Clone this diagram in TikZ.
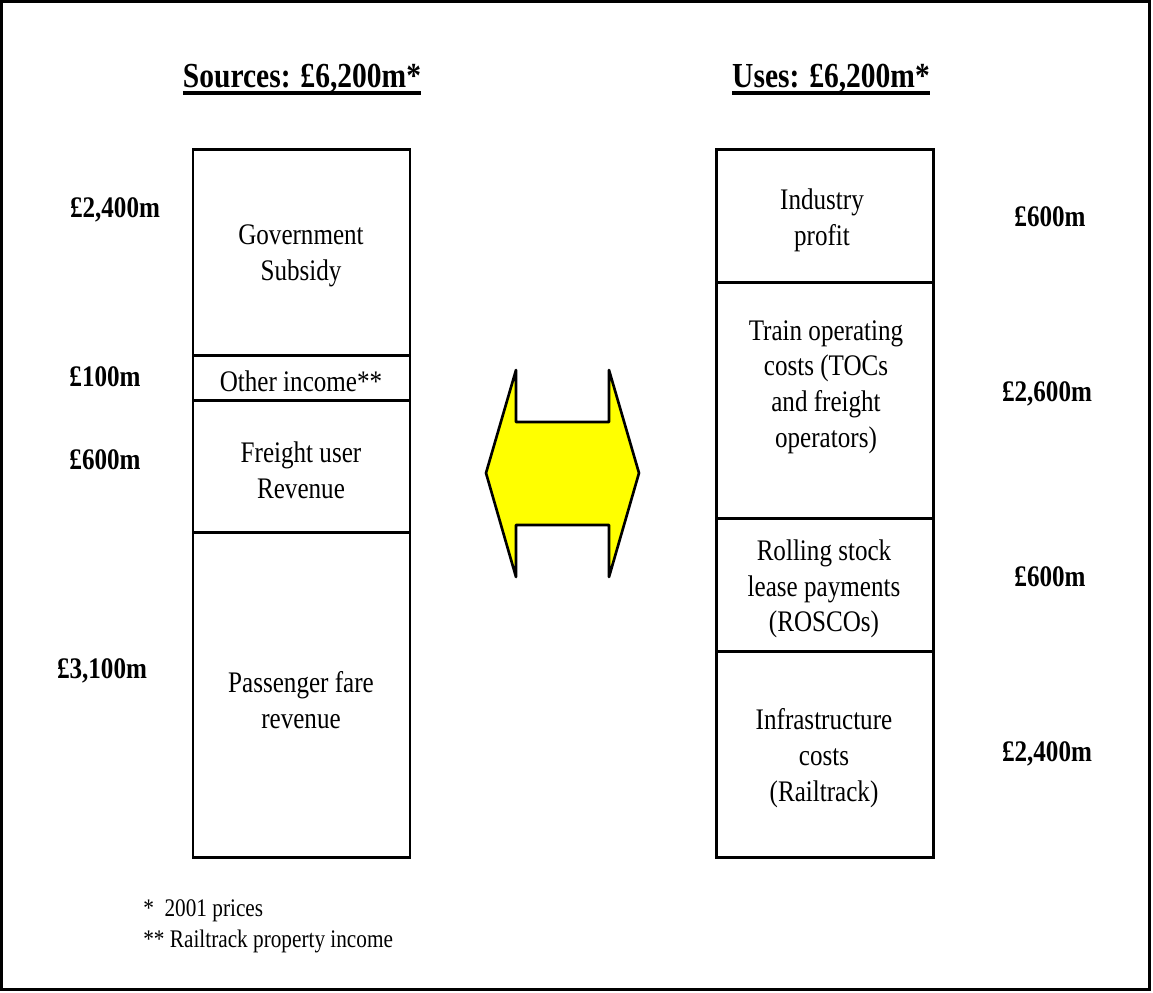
\documentclass[tikz,border=0pt]{standalone}
\usepackage{fontspec}
\setmainfont{Liberation Serif}[FakeStretch=0.84]
\usepackage{xcolor}
\definecolor{arrowyellow}{RGB}{255,255,0}
\usetikzlibrary{positioning}

\newcommand{\titleul}[1]{\setbox0=\hbox{#1}\leavevmode\rlap{\rule[-4.5pt]{\wd0}{2.2pt}}\box0}

\tikzset{
  boxtext/.style={align=center, inner sep=0pt, font=\fontsize{17}{20.3}\selectfont},
  amount/.style={inner sep=0pt, font=\fontsize{17}{20.3}\selectfont\bfseries},
  heading/.style={anchor=base, inner sep=0pt, font=\fontsize{20}{24}\selectfont\bfseries},
  footnote/.style={anchor=west, inner sep=0pt, font=\fontsize{14.4}{17}\selectfont},
  column/.style={line width=1.7pt}
}

\begin{document}
\begin{tikzpicture}[x=0.02cm, y=-0.02cm]
    \useasboundingbox (0,0) rectangle (1153,992);
    % Outer frame
    \draw[line width=1.7pt] (1.5,1.5) rectangle (1149.5,989);

    % Headings
    \node[heading] (srctitle) at (302,87) {\titleul{Sources: £6,200m*}};
    \node[heading] (usetitle) at (831,87) {\titleul{Uses: £6,200m*}};

    % Left column: sources
    \draw[column] (193,149) rectangle (410,857);
    \draw[column] (193,355) -- (410,355);
    \draw[column] (193,400) -- (410,400);
    \draw[column] (193,532) -- (410,532);
    \node[boxtext] (gov) at (301,256) {Government\\Subsidy};
    \node[boxtext] (other) at (301,381) {Other income**};
    \node[boxtext] (freight) at (301,470) {Freight user\\Revenue};
    \node[boxtext] (passenger) at (301,700) {Passenger fare\\revenue};

    % Right column: uses
    \draw[column] (716,149) rectangle (933,857);
    \draw[column] (716,282) -- (933,282);
    \draw[column] (716,518) -- (933,518);
    \draw[column] (716,651) -- (933,651);
    \node[boxtext] (profit) at (822,220) {Industry\\profit};
    \node[boxtext] (toc) at (826,387) {Train operating\\costs (TOCs\\and freight\\operators)};
    \node[boxtext] (rosco) at (824,589) {Rolling stock\\lease payments\\(ROSCOs)};
    \node[boxtext] (infra) at (824,758) {Infrastructure\\costs\\(Railtrack)};

    % Amounts on the left
    \node[amount] (srcgov) at (115,210) {£2,400m};
    \node[amount] (srcother) at (105,377) {£100m};
    \node[amount] (srcfreight) at (105,460) {£600m};
    \node[amount] (srcpass) at (102,671) {£3,100m};

    % Amounts on the right
    \node[amount] (useprofit) at (1050,217) {£600m};
    \node[amount] (usetoc) at (1047,394) {£2,600m};
    \node[amount] (userosco) at (1050,577) {£600m};
    \node[amount] (useinfra) at (1047,754) {£2,400m};

    % Double arrow in the middle
    \fill[arrowyellow] (486,473) -- (516,370) -- (516,422) -- (609,422) -- (609,370)
      -- (639,473) -- (609,577) -- (609,525) -- (516,525) -- (516,577) -- cycle;
    \draw[line width=1.5pt, line join=round] (486,473) -- (516,370) -- (516,422) -- (609,422) -- (609,370)
      -- (639,473) -- (609,577) -- (609,525) -- (516,525) -- (516,577) -- cycle;

    % Footnotes
    \node[footnote] (fnprice) at (143,911) {*\ \ 2001 prices};
    \node[footnote] (fnprop) at (143,941) {** Railtrack property income};
\end{tikzpicture}
\end{document}
